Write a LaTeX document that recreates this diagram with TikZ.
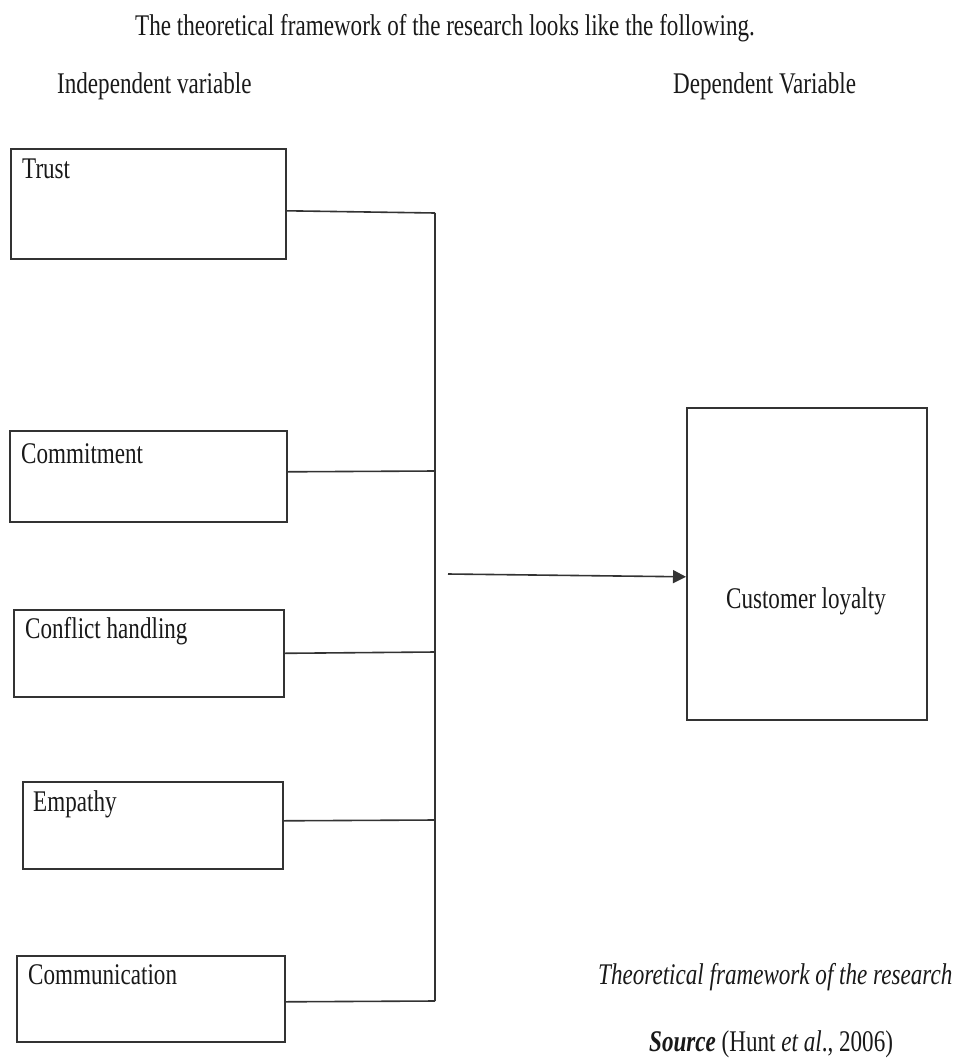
\documentclass[tikz,border=0pt]{standalone}
\usepackage{fontspec}
\setmainfont{Liberation Serif}[FakeStretch=0.77]
\usetikzlibrary{positioning,arrows.meta}

\tikzset{
  varbox/.style={draw=black!80, line width=1.6bp, inner sep=0pt, anchor=north west},
  varname/.style={anchor=base west, inner sep=0pt, text=black!90},
  link/.style={draw=black!80, line width=1.6bp}
}

\begin{document}
\begin{tikzpicture}[x=1bp,y=-1bp,font=\fontsize{30bp}{36bp}\selectfont]
\useasboundingbox (0,0) rectangle (959,1061);
\node[varname] (title) at (135,35) {The theoretical framework of the research looks like the following.};
\node[varname] (indep) at (57,93) {Independent variable};
\node[varname] (dep) at (673,93) {Dependent Variable};

\node[varbox, minimum width=275bp, minimum height=110bp] (trust) at (10,148) {};
\node[varbox, minimum width=277bp, minimum height=91bp] (commit) at (9,430) {};
\node[varbox, minimum width=270bp, minimum height=87bp] (conflict) at (13,609) {};
\node[varbox, minimum width=260bp, minimum height=87bp] (empathy) at (22,781) {};
\node[varbox, minimum width=268bp, minimum height=86bp] (comm) at (16,955) {};
\node[varbox, minimum width=240bp, minimum height=312bp] (loyalty) at (686,407) {};

\node[varname] (trusttxt) at ([shift={(12bp,-30bp)}]trust.north west) {Trust};
\node[varname] (committxt) at ([shift={(12bp,-33bp)}]commit.north west) {Commitment};
\node[varname] (conflicttxt) at ([shift={(12bp,-29bp)}]conflict.north west) {Conflict handling};
\node[varname] (empathytxt) at ([shift={(11bp,-30bp)}]empathy.north west) {Empathy};
\node[varname] (commtxt) at ([shift={(12bp,-29bp)}]comm.north west) {Communication};
\node[anchor=base, inner sep=0pt, text=black!90] (loyaltytxt) at (806,608) {Customer loyalty};

\coordinate (j1) at (435,213);
\coordinate (j2) at (435,471);
\coordinate (j3) at (435,652);
\coordinate (j4) at (435,820);
\coordinate (j5) at (435,1001);
\coordinate (start) at (448,574);

\draw[link] ([yshift=-7bp]trust.east) -- (j1);
\draw[link] ([yshift=4.5bp]commit.east) -- (j2);
\draw[link] (conflict.east) -- (j3);
\draw[link] ([yshift=4.5bp]empathy.east) -- (j4);
\draw[link] ([yshift=-3bp]comm.east) -- (j5);
\draw[link] (j1) -- (j5);
\draw[link, -{Triangle[length=13bp,width=13bp]}] (start) -- ([yshift=-13bp]loyalty.west);

\node[varname] (caption) at (598,984) {\itshape Theoretical framework of the research};
\node[varname] (source) at (649,1051) {\textbf{\textit{Source}} (Hunt \textit{et al}., 2006)};
\end{tikzpicture}
\end{document}
